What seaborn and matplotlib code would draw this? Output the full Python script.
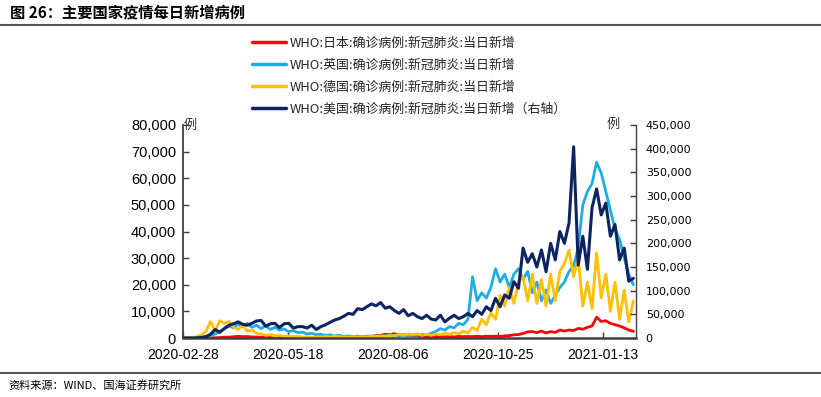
import matplotlib
matplotlib.use('Agg')
import matplotlib.pyplot as plt
import seaborn as sns
import pandas as pd
from matplotlib.lines import Line2D
from matplotlib.ticker import FuncFormatter

# values, one point every 3.5 days from 2020-02-28 (thousands of cases)
start_date = '2020-02-28'
step = '84h'

japan_k = [0.02, 0.02, 0.03, 0.04, 0.05, 0.05, 0.06, 0.10, 0.15, 0.30,
           0.35, 0.45, 0.65, 0.50, 0.55, 0.40, 0.35, 0.25, 0.20, 0.15,
           0.10, 0.06, 0.05, 0.04, 0.03, 0.03, 0.04, 0.05, 0.05, 0.05,
           0.05, 0.06, 0.06, 0.08, 0.10, 0.13, 0.20, 0.25, 0.40, 0.35,
           0.60, 0.70, 0.80, 1.00, 1.40, 1.20, 1.60, 1.10, 1.20, 0.90,
           1.00, 0.80, 0.70, 0.50, 0.60, 0.50, 0.60, 0.40, 0.50, 0.40,
           0.60, 0.50, 0.60, 0.50, 0.70, 0.50, 0.70, 0.60, 0.70, 0.60,
           0.80, 0.90, 1.20, 1.30, 1.70, 2.30, 2.40, 2.00, 2.60, 1.90,
           2.40, 2.10, 3.00, 2.60, 3.00, 2.80, 3.60, 3.30, 4.00, 4.50,
           7.80, 6.20, 6.50, 5.50, 5.00, 4.50, 3.80, 3.00, 2.50]

uk_k = [0, 0, 0, 0.1, 0.3, 0.6, 1.0, 1.5, 2.5, 3.5,
        4.5, 3.8, 5.2, 4.2, 5.5, 4.0, 4.8, 3.5, 4.6, 3.2,
        4.0, 3.0, 3.4, 2.4, 2.8, 2.0, 2.2, 1.5, 1.8, 1.2,
        1.4, 1.0, 1.2, 0.8, 1.0, 0.6, 0.8, 0.5, 0.7, 0.5,
        0.7, 0.6, 0.8, 0.6, 0.9, 0.8, 1.0, 0.8, 1.1, 0.9,
        1.2, 1.0, 1.4, 1.2, 1.8, 2.5, 3.5, 3.0, 4.3, 3.8,
        5.5, 5.0, 7.0, 23, 14, 17, 15, 19, 26, 21,
        24, 19, 24, 26, 22, 25, 17, 21, 14, 18,
        13, 16, 19, 21, 25, 27, 34, 50, 55, 58,
        66, 62, 55, 48, 41, 37, 30, 24, 20]

germany_k = [0, 0, 0.1, 0.5, 1.2, 2.5, 6.2, 2.5, 6.5, 5.5,
             6.2, 4.0, 3.2, 4.8, 2.5, 3.0, 1.8, 1.5, 1.0, 1.3,
             0.8, 1.0, 0.6, 0.7, 0.5, 0.6, 0.3, 0.5, 0.3, 0.4,
             0.3, 0.6, 0.4, 0.7, 0.5, 0.4, 0.3, 0.4, 0.3, 0.5,
             0.4, 0.6, 0.5, 0.8, 0.6, 1.0, 0.8, 1.4, 1.1, 1.5,
             1.2, 1.6, 1.0, 1.4, 1.0, 1.5, 1.2, 1.8, 1.4, 2.0,
             1.6, 2.5, 1.9, 4.0, 2.8, 7.0, 5.0, 9.5, 7.0, 16,
             12, 19, 13, 21, 23, 14, 24, 13, 22, 12,
             24, 14, 25, 28, 33, 23, 30, 12, 21, 11,
             32, 15, 24, 10, 21, 7, 18, 6, 14]

# right axis
usa_k = [0, 0, 0, 0.3, 1, 3, 8, 18, 12, 20,
         27, 30, 34, 29, 27, 31, 36, 37, 25, 30,
         31, 22, 30, 31, 21, 24, 24, 21, 27, 18,
         24, 28, 33, 38, 41, 46, 52, 50, 62, 60,
         66, 72, 68, 75, 63, 66, 58, 52, 60, 47,
         52, 45, 41, 48, 40, 38, 48, 34, 42, 48,
         41, 45, 52, 45, 58, 50, 66, 58, 84, 66,
         91, 84, 119, 105, 190, 160, 178, 150, 186, 140,
         200, 165, 225, 200, 243, 404, 154, 215, 145, 275,
         315, 260, 285, 215, 240, 165, 190, 120, 126]

series_labels = ['WHO:日本:确诊病例:新冠肺炎:当日新增',
                 'WHO:英国:确诊病例:新冠肺炎:当日新增',
                 'WHO:德国:确诊病例:新冠肺炎:当日新增',
                 'WHO:美国:确诊病例:新冠肺炎:当日新增（右轴）']
series_colors = ['#FF0000', '#1CADE4', '#FFC000', '#0C2461']
tick_labels = ['2020-02-28', '2020-05-18', '2020-08-06', '2020-10-25', '2021-01-13']
end_date = '2021-02-07'

sns.set_theme(style='white')
plt.rcParams['font.family'] = ['Liberation Sans', 'Noto Sans CJK SC']
cjk = ['Noto Sans CJK SC', 'DejaVu Sans']

dates = pd.date_range(start_date, periods=len(usa_k), freq=step)
df = pd.DataFrame({
    'date': dates,
    'japan': [v * 1000 for v in japan_k],
    'uk': [v * 1000 for v in uk_k],
    'germany': [v * 1000 for v in germany_k],
    'usa': [v * 1000 for v in usa_k],
})

fig = plt.figure(figsize=(8.21, 3.97), dpi=100)
W, H = 821, 397
ax = fig.add_axes([183 / W, 1 - 338 / H, (636 - 183) / W, (338 - 125) / H])
ax2 = ax.twinx()

for col, color in zip(['japan', 'uk', 'germany'], series_colors[:3]):
    sns.lineplot(data=df, x='date', y=col, ax=ax, color=color, lw=2.0, legend=False)
sns.lineplot(data=df, x='date', y='usa', ax=ax2, color=series_colors[3], lw=2.2, legend=False)

ax.set_xlim(pd.Timestamp(start_date), pd.Timestamp(end_date))
ax.set_ylim(0, 80000)
ax2.set_ylim(0, 450000)
ax.set_yticks(range(0, 80001, 10000))
ax2.set_yticks(range(0, 450001, 50000))
fmt = FuncFormatter(lambda v, p: f'{v:,.0f}')
ax.yaxis.set_major_formatter(fmt)
ax2.yaxis.set_major_formatter(fmt)
ax.set_xticks(pd.to_datetime(tick_labels))
ax.set_xticklabels(tick_labels)
for a in (ax, ax2):
    a.set_xlabel('')
    a.set_ylabel('')
    a.spines['top'].set_visible(False)
ax.spines['right'].set_visible(False)
ax2.spines['left'].set_visible(False)
ax2.spines['bottom'].set_visible(False)
ax.spines['left'].set_color('#404040')
ax.spines['left'].set_linewidth(1.3)
ax.spines['bottom'].set_color('#404040')
ax.spines['bottom'].set_linewidth(1.8)
ax2.spines['right'].set_color('#404040')
ax2.spines['right'].set_linewidth(1.0)

ax.tick_params(axis='x', direction='in', length=4, width=1, color='#404040',
               pad=7, labelsize=10, labelcolor='black', bottom=True)
ax.tick_params(axis='y', direction='in', length=4, width=1, color='#404040',
               pad=5, labelsize=10.5, labelcolor='black', left=True)
ax2.tick_params(axis='y', direction='in', length=4, width=1, color='#404040',
                pad=7, labelsize=8, labelcolor='black', right=True)
for t in ax2.get_yticklabels():
    t.set_family('DejaVu Sans')

# unit labels
fig.text(190 / W, 1 - 125 / H, '例', family=cjk, fontsize=9.5, color='#333333',
         ha='center', va='center')
fig.text(613 / W, 1 - 124 / H, '例', family=cjk, fontsize=9.5, color='#333333',
         ha='center', va='center')

handles = [Line2D([], [], color=c, lw=2.5) for c in series_colors]
fig.legend(handles, series_labels, loc='upper left', bbox_to_anchor=(252 / W, 1 - 37 / H),
           frameon=False, prop={'family': cjk, 'size': 9.3}, handlelength=2.6,
           handletextpad=0.35, labelspacing=0.68, borderpad=0, borderaxespad=0)

# title, rules and source
fig.text(10 / W, 1 - 12 / H, '图 26：主要国家疫情每日新增病例', family=cjk,
         fontsize=11, fontweight='bold', color='black', ha='left', va='center')
fig.add_artist(Line2D([0, 1], [1 - 25 / H] * 2, transform=fig.transFigure,
                      color='#555555', lw=1.5))
fig.add_artist(Line2D([0, 1], [1 - 373 / H] * 2, transform=fig.transFigure,
                      color='#555555', lw=1.5))
fig.text(8 / W, 1 - 385 / H, '资料来源：WIND、国海证券研究所', family=cjk,
         fontsize=8, color='black', ha='left', va='center')

fig.savefig('out.png', dpi=100)
